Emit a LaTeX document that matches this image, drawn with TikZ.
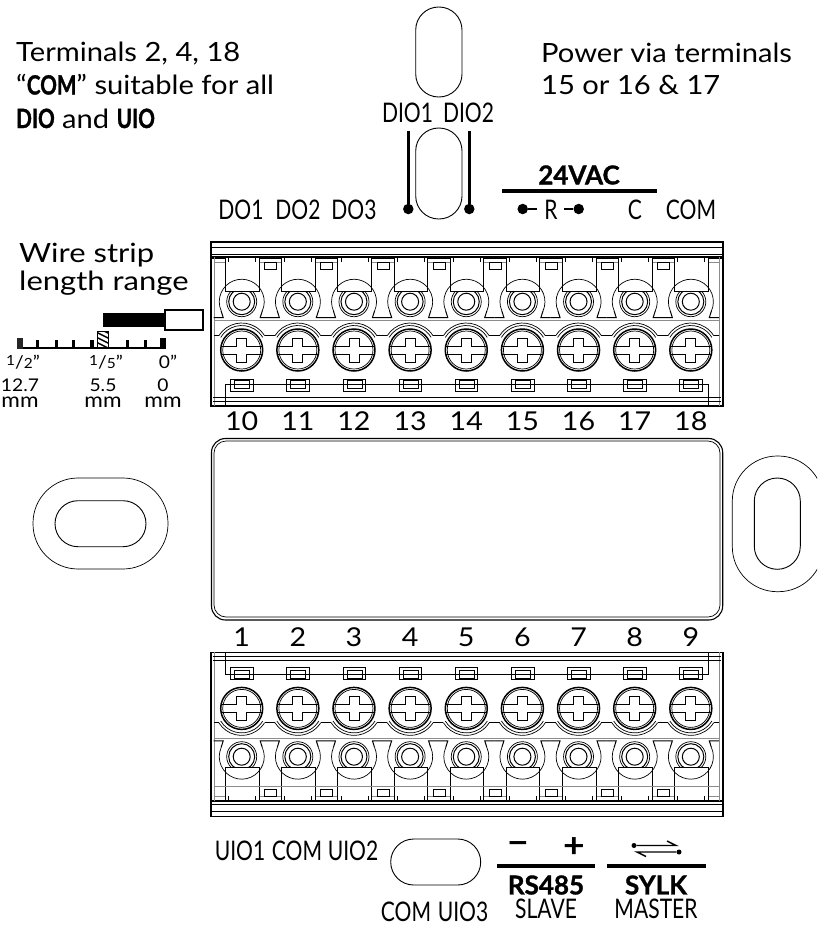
\documentclass[tikz,border=0pt]{standalone}
\usepackage{fontspec}
\setmainfont[FakeStretch=1.1]{Lato}
\newfontfamily\widefont[FakeStretch=1.17]{Lato}
\newfontfamily\narrowfont[FakeStretch=0.78,BoldFeatures={FakeBold=1.2}]{Lato}
\newfontfamily\heavyfont[BoldFeatures={FakeBold=1.2}]{Lato}
\usetikzlibrary{positioning}

\newcommand{\terminalblock}{
  % frame and top bar
  \draw[wall] (211,242) rectangle (723,257);
  \draw[wall] (211,257) rectangle (723,406);
  \draw[fine] (211,247) -- (723,247);
  \draw[fine] (211,254) -- (723,254);
  \draw[fine] (212,258.3) -- (722,258.3);
  \draw[pale] (214,262) -- (719,262) (214,257) -- (214,406) (719,257) -- (719,406);
  \draw[pale] (214,320.5) -- (719,320.5);
  \draw[fine] (213,397.5) -- (721,397.5);
  \draw[fine] (213,401.5) -- (721,401.5);
  \draw[fine] (225.7,406) -- (225.7,384) -- (708.5,384) -- (708.5,406);
  \foreach \i in {0,...,8}{
    \begin{scope}[shift={({241.7+56.14*\i},0)}]
      % washer with its tab
      \draw[fine] (0,301.7) circle (8.5);
      \draw[fine] (0,301.7) circle (13);
      \draw[thin] (0,301.7) circle (15);
      \draw[fine,fill=white] (-16,258) -- (-16,291) -- (17.5,291) -- (17.5,258);
      \draw[thin] (-13,258) -- (-13,262) (14,258) -- (14,262);
      \draw[thin] (20.6,310.9) arc (24:-204:22.5);
      \draw[fine] (20.6,310.9) -- (18.5,317.5) -- (28.07,317.5);
      \draw[fine] (-20.6,310.9) -- (-18.5,317.5) -- (-28.07,317.5);
      % screw
      \draw[thin] (-22.9,335.7) arc (-148:-32:27);
      \draw[thin] (-21,337.4) arc (-149:-31:24.5);
      \draw[fine] (22.9,335.7) -- (28.07,335.7) (-22.9,335.7) -- (-28.07,335.7);
      \draw[wall,fill=white] (0,350) circle (21);
      \draw[thin] (0,350) circle (19);
      \draw[thin] (-20.6,346.3) -- (-5,346.3) -- (-5,338) -- (5,338) -- (5,346.3) -- (20.6,346.3);
      \draw[thin] (-20.6,354) -- (-5,354) -- (-5,362.5) -- (5,362.5) -- (5,354) -- (20.6,354);
      % catch at the foot
      \draw[thin,fill=white] (-11,379) rectangle (11.5,391);
      \draw[thin] (-7,380.5) rectangle (8,388);
      \draw[fine] (-11,384) -- (11.5,384);
    \end{scope}
  }
  \foreach \i in {0,...,7}{
    \draw[thin] ({241.7+56.14*\i+23},262) rectangle ({241.7+56.14*\i+35},269);
  }
}

\begin{document}
\begin{tikzpicture}[x=1pt,y=-1pt]
  \tikzset{wall/.style={line width=1.5pt}}
  \tikzset{fine/.style={line width=1pt}}
  \tikzset{thin/.style={line width=.7pt}}
  \tikzset{pale/.style={line width=.7pt,black!45}}
  \tikzset{bar/.style={line width=2.6pt}}
  \tikzset{headbar/.style={line width=4.5pt}}
  \tikzset{oval/.style={line width=.9pt}}
  \tikzset{dot/.style={circle,fill=black,inner sep=0pt,minimum size=10.5pt}}
  \tikzset{smalldot/.style={circle,fill=black,inner sep=0pt,minimum size=5pt}}
  \tikzset{note/.style={anchor=base west,inner sep=0pt,font=\fontsize{26.5}{26.5}\selectfont}}
  \tikzset{pin/.style={inner sep=0pt,font=\narrowfont\fontsize{27}{27}\selectfont}}
  \tikzset{num/.style={inner sep=0pt,font=\fontsize{26}{26}\selectfont}}
  \tikzset{tiny/.style={inner sep=0pt,font=\fontsize{17.5}{17.5}\selectfont}}
  \tikzset{unit/.style={inner sep=0pt,font=\fontsize{20.5}{20.5}\selectfont}}
  \tikzset{heading/.style={inner sep=0pt,font=\heavyfont\bfseries\fontsize{26}{26}\selectfont}}
  \tikzset{sign/.style={inner sep=0pt,font=\bfseries\fontsize{34}{34}\selectfont}}

  \useasboundingbox (0,0) rectangle (817,926);
  \clip (0,0) rectangle (817,926);

  % notes
  \node[note] (comA) at (16,61) {Terminals 2, 4, 18};
  \node[note] (comB) at (16,94.5) {“{\narrowfont\bfseries COM}” suitable for all};
  \node[note] (comC) at (16,128) {{\narrowfont\bfseries DIO} and {\narrowfont\bfseries UIO}};
  \node[note] (powA) at (541,62) {Power via terminals};
  \node[note] (powB) at (541,94) {15 or 16 \& 17};
  \node[note,font=\widefont\fontsize{26.5}{26.5}\selectfont] (stripA) at (19,262) {Wire strip};
  \node[note,font=\widefont\fontsize{26.5}{26.5}\selectfont] (stripB) at (19,290) {length range};

  % top field
  \draw[oval,rounded corners=23pt] (415.7,7) rectangle (462,97);
  \draw[oval,rounded corners=23pt] (415.7,128) rectangle (462,219);
  \node[pin,anchor=base] (dio1) at (407.5,122.5) {DIO1};
  \node[pin,anchor=base] (dio2) at (468.5,122.5) {DIO2};
  \coordinate (dioA) at (408.3,131);
  \coordinate (dioB) at (469.3,131);
  \node[dot] (dotA) at (408.3,209) {};
  \node[dot] (dotB) at (469.3,209) {};
  \draw[bar] (dioA) -- (dotA);
  \draw[bar] (dioB) -- (dotB);
  \node[pin,anchor=base] (do1) at (241,219) {DO1};
  \node[pin,anchor=base] (do2) at (298,219) {DO2};
  \node[pin,anchor=base] (do3) at (354,219) {DO3};
  \node[heading] (vac) at (579,175) {24VAC};
  \coordinate (vacL) at (502,191);
  \coordinate (vacR) at (657,191);
  \draw[headbar] (vacL) -- (vacR);
  \node[pin] (rr) at (551,209.5) {R};
  \node[pin] (cc) at (635,209.5) {C};
  \node[pin] (com) at (691,209.5) {COM};
  \node[dot] (dotR) at (522.7,209) {};
  \node[dot] (dotS) at (578.7,209) {};
  \coordinate (rL) at (537,209);
  \coordinate (rR) at (564,209);
  \draw[bar] (dotR) -- (rL);
  \draw[bar] (rR) -- (dotS);

  % strip gauge
  \draw[fill=black] (103,313.5) rectangle (165,326.5);
  \draw[line width=1.6pt] (165,310) rectangle (203,330);
  \coordinate (ruleL) at (18,348);
  \coordinate (ruleR) at (165,348);
  \draw[line width=2.4pt] (ruleL) -- (ruleR);
  \fill[black!85] (17,338) rectangle (23,349);
  \fill (160,338) rectangle (166,349);
  \foreach \x/\w in {37.3/3,56.5/3,73.3/3,92/4,127.3/3,145.7/3}{
    \draw[line width=\w pt] (\x,340) -- (\x,348);
  }
  \begin{scope}
    \clip (97,331.5) rectangle (108,347);
    \foreach \h in {-6,-1,...,24}{
      \draw[line width=1.5pt] (94,{327+\h}) -- (112,{336+\h});
    }
  \end{scope}
  \draw[line width=.8pt] (97,331.5) rectangle (108,347);
  \node[tiny] (halfin) at (23,362) {{\raisebox{3pt}{\fontsize{14}{14}\selectfont 1}}/{\fontsize{14}{14}\selectfont 2}”};
  \node[tiny] (fifthin) at (106,362) {{\raisebox{3pt}{\fontsize{14}{14}\selectfont 1}}/{\fontsize{14}{14}\selectfont 5}”};
  \node[tiny] (zeroin) at (168,362) {0”};
  \node[tiny] (m127) at (20,385) {12.7};
  \node[tiny] (m55) at (103,385) {5.5};
  \node[tiny] (m0) at (163,385) {0};
  \node[unit,below=5pt of m127] (mmA) {mm};
  \node[unit,below=5pt of m55] (mmB) {mm};
  \node[unit,below=5pt of m0] (mmC) {mm};

  % terminal blocks
  \terminalblock
  \begin{scope}[shift={(0,1058.4)},yscale=-1]
    \terminalblock
  \end{scope}
  \draw[pale] (214,786.5) -- (719,786.5);
  \foreach \n [count=\i from 0] in {10,...,18}{
    \node[num] (t\n) at ({241.7+56.14*\i},421.5) {\n};
  }
  \foreach \n [count=\i from 0] in {1,...,9}{
    \node[num] (b\n) at ({241.7+56.14*\i},637) {\n};
  }

  % middle panel and side slots
  \draw[line width=1.1pt,rounded corners=14pt] (211.5,438.5) rectangle (722.7,620);
  \draw[thin,rounded corners=12pt] (214,441) rectangle (720,617);
  \draw[thin,rounded corners=45pt] (33,478) rectangle (168,569);
  \draw[oval,rounded corners=23pt] (55,500.7) rectangle (146,546.7);
  \draw[thin,rounded corners=45pt] (732.3,456) rectangle (823.3,591.7);
  \draw[oval,rounded corners=23pt] (754.3,478) rectangle (800.3,569.3);

  % bottom field
  \node[pin,anchor=base] (uio1) at (240,860) {UIO1};
  \node[pin,anchor=base] (ucom) at (297,860) {COM};
  \node[pin,anchor=base] (uio2) at (353,860) {UIO2};
  \draw[oval,rounded corners=23pt] (390.7,839) rectangle (480.7,885);
  \node[pin,anchor=base] (ucomB) at (406,921) {COM};
  \node[pin,anchor=base] (uio3) at (463,921) {UIO3};
  \coordinate (rsL) at (497,866);
  \coordinate (rsR) at (595,866);
  \coordinate (syL) at (607,866);
  \coordinate (syR) at (706,866);
  \draw[headbar] (rsL) -- (rsR);
  \draw[headbar] (syL) -- (syR);
  \node[heading] (rs) at (546,885) {RS485};
  \node[pin] (slave) at (546,908.5) {SLAVE};
  \node[heading] (sylk) at (656,885) {SYLK};
  \node[pin] (master) at (656,908.5) {MASTER};
  \node[sign] (minus) at (518,848) {−};
  \node[sign] (plus) at (574,848) {+};
  \node[smalldot] (syA) at (634,845.5) {};
  \node[smalldot] (syB) at (679,852) {};
  \coordinate (syC) at (676,845.5);
  \coordinate (syD) at (637,852);
  \draw[line width=1.4pt] (syA) -- (syC) -- ++(-9,-4.5);
  \draw[line width=1.4pt] (syB) -- (syD) -- ++(9,4.5);
\end{tikzpicture}
\end{document}
